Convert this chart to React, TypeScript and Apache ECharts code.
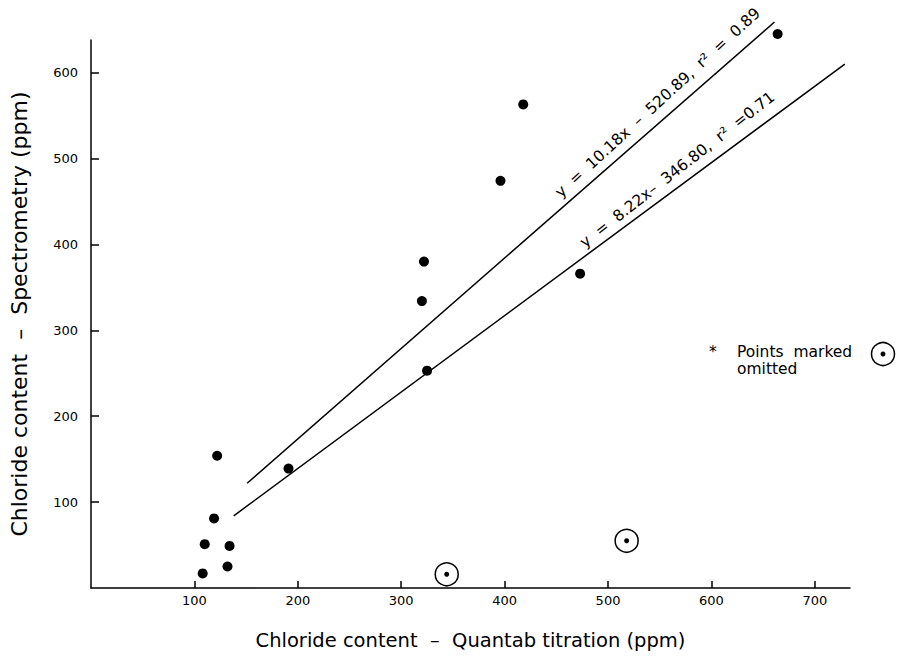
import React, { useEffect, useRef } from "react";
import * as echarts from "echarts";

const xTickValues = [100, 200, 300, 400, 500, 600, 700];
const yTickValues = [100, 200, 300, 400, 500, 600];
const pointX = [108, 110, 122, 119, 134, 132, 191, 320, 322, 325, 396, 418, 473, 664];
const pointY = [17, 51, 154, 81, 49, 25, 139, 334, 380, 253, 474, 563, 366, 645];
const omittedX = [344, 518];
const omittedY = [16, 55];
const fitAX = [151, 661];
const fitAY = [122, 659];
const fitBX = [138, 729];
const fitBY = [84, 610];
const fitLabels = ["y  =  10.18x  –  520.89,  r\u00B2  =  0.89", "y  =  8.22x–  346.80,  r\u00B2  =0.71"];
const fitLabelX = [548, 567];
const fitLabelY = [565, 487];
const fitLabelAngle = [42.5, 38];
const xTitle = "Chloride content  –  Quantab titration (ppm)";
const yTitle = "Chloride content  –  Spectrometry (ppm)";
const legendLines = ["Points  marked", "omitted"];

const FONT = "DejaVu Sans";

export default function App() {
  const ref = useRef<HTMLDivElement>(null);
  useEffect(() => {
    if (!ref.current) return;
    const chart = echarts.init(ref.current, undefined, { renderer: "svg" });
    const black = "#000";
    const axisCommon = {
      type: "value" as const,
      min: 0,
      interval: 100,
      splitLine: { show: false },
      axisLine: { show: true, onZero: false, lineStyle: { color: black, width: 1.5 } },
      nameLocation: "middle" as const,
    };
    chart.setOption({
      animation: false,
      backgroundColor: "#fff",
      grid: { left: 89, right: 48, top: 40, bottom: 71 },
      xAxis: {
        ...axisCommon,
        max: 734,
        name: xTitle,
        nameGap: 42,
        nameTextStyle: { color: black, fontSize: 19.5, fontFamily: FONT },
        axisTick: { show: true, inside: true, length: 7, customValues: xTickValues, lineStyle: { color: black, width: 1.5 } },
        axisLabel: { customValues: xTickValues, color: black, fontSize: 13, fontFamily: FONT, margin: 6 },
      },
      yAxis: {
        ...axisCommon,
        max: 638,
        name: yTitle,
        nameGap: 61,
        nameTextStyle: { color: black, fontSize: 22, fontFamily: FONT },
        axisTick: { show: true, inside: true, length: 8, customValues: yTickValues, lineStyle: { color: black, width: 1.5 } },
        axisLabel: { customValues: yTickValues, color: black, fontSize: 13, fontFamily: FONT, margin: 13 },
      },
      series: [
        {
          type: "line",
          data: fitAX.map((x, i) => [x, fitAY[i]]),
          symbol: "none",
          clip: false,
          lineStyle: { color: black, width: 1.5 },
        },
        {
          type: "line",
          data: fitBX.map((x, i) => [x, fitBY[i]]),
          symbol: "none",
          clip: false,
          lineStyle: { color: black, width: 1.5 },
        },
        {
          type: "scatter",
          data: pointX.map((x, i) => [x, pointY[i]]),
          symbol: "circle",
          symbolSize: 10,
          clip: false,
          itemStyle: { color: black, opacity: 1 },
        },
        {
          type: "scatter",
          data: omittedX.map((x, i) => [x, omittedY[i]]),
          symbol: "circle",
          symbolSize: 23,
          clip: false,
          itemStyle: { color: "#fff", borderColor: black, borderWidth: 1.5, opacity: 1 },
        },
        {
          type: "scatter",
          data: omittedX.map((x, i) => [x, omittedY[i]]),
          symbol: "circle",
          symbolSize: 5,
          clip: false,
          itemStyle: { color: black, opacity: 1 },
        },
        ...fitLabels.map((t, i) => ({
          type: "scatter",
          data: [[fitLabelX[i], fitLabelY[i]]],
          symbolSize: 1,
          clip: false,
          silent: true,
          itemStyle: { color: "rgba(0,0,0,0)", opacity: 1 },
          label: {
            show: true,
            position: "inside",
            formatter: t,
            rotate: fitLabelAngle[i],
            color: black,
            opacity: 1,
            fontSize: 15.5,
            fontFamily: FONT,
          },
        })),
      ],
      graphic: [
        { type: "text", left: 709, top: 344, style: { text: "*", fill: "#000", fontSize: 15.5, fontFamily: FONT } },
        { type: "text", left: 737, top: 344, style: { text: legendLines[0], fill: "#000", fontSize: 15.5, fontFamily: FONT } },
        { type: "text", left: 737, top: 361, style: { text: legendLines[1], fill: "#000", fontSize: 15.5, fontFamily: FONT } },
        { type: "circle", shape: { cx: 883, cy: 354, r: 11.5 }, style: { fill: "#fff", stroke: "#000", lineWidth: 1.5 } },
        { type: "circle", shape: { cx: 883, cy: 354, r: 2.5 }, style: { fill: "#000" } },
      ],
    });
    return () => chart.dispose();
  }, []);
  return <div ref={ref} style={{ position: "fixed", left: 0, top: 0, width: 898, height: 659 }} />;
}
